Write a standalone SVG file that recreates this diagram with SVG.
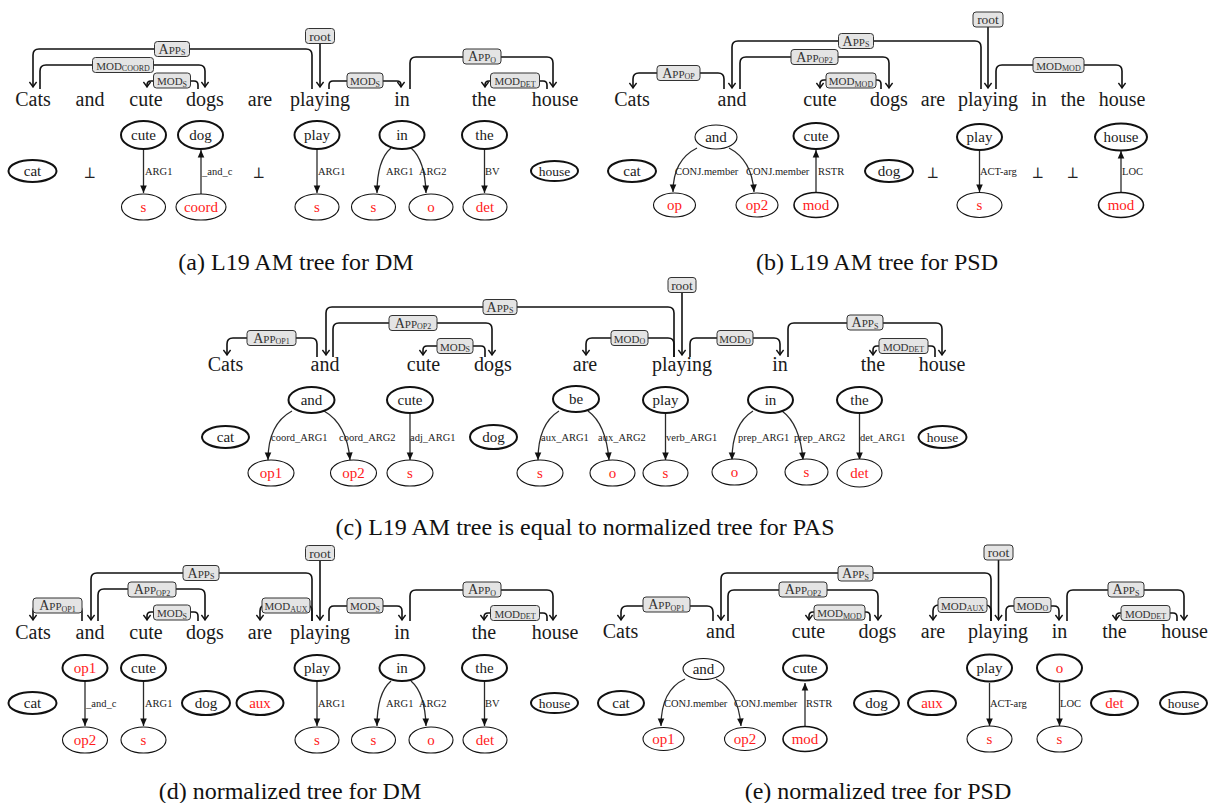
<svg xmlns="http://www.w3.org/2000/svg" width="1208" height="803" viewBox="0 0 1208 803">
<defs>
<style>
text{font-family:"Liberation Serif","Times New Roman",serif;fill:#1a1a1a}
.w{font-size:20px;text-anchor:middle}
.cap{font-size:24px;text-anchor:middle;fill:#111}
.arc{fill:none;stroke:#111;stroke-width:1.6;marker-end:url(#ah)}
.te{fill:none;stroke:#2a2a2a;stroke-width:1.3;marker-end:url(#tri)}
.lb rect{fill:#e4e4e4;stroke:#333;stroke-width:1}
.lb text{font-size:14px;text-anchor:middle;fill:#333}
.sc{font-size:11px}
.sb{font-size:8px}
.lb text.rt{font-size:13.5px}
.k ellipse{fill:#fff;stroke:#111;stroke-width:2}
.t ellipse{fill:#fff;stroke:#111;stroke-width:1.1}
.m ellipse{fill:#fff;stroke:#111;stroke-width:1.6}
.k text,.t text,.m text{font-size:15px;text-anchor:middle}
.red text{fill:#ff1a1a}
.sm text{font-size:13.5px}
.el{font-size:10.5px;fill:#222}
.bot{font-family:"DejaVu Math TeX Gyre","DejaVu Serif","DejaVu Sans",serif;font-size:15px;text-anchor:middle;fill:#222}
</style>
<marker id="ah" viewBox="-6 -5 7 10" markerWidth="7" markerHeight="10" refX="0" refY="0" orient="auto" markerUnits="userSpaceOnUse">
<path d="M-5,-3.6 Q-1.5,-0.8 0,0 Q-1.5,0.8 -5,3.6" fill="none" stroke="#111" stroke-width="1.4"/>
</marker>
<marker id="tri" viewBox="-8 -4 9 8" markerWidth="9" markerHeight="8" refX="0" refY="0" orient="auto" markerUnits="userSpaceOnUse">
<path d="M0,0 L-7.5,-3.3 L-7.5,3.3 z" fill="#111"/>
</marker>
</defs>
<rect width="1208" height="803" fill="#fff"/>

<!-- ================= PANEL A ================= -->
<g id="panel-a">
<g id="a-words">
<text class="w" x="33" y="106">Cats</text>
<text class="w" x="90" y="106">and</text>
<text class="w" x="146" y="106">cute</text>
<text class="w" x="205" y="106">dogs</text>
<text class="w" x="260" y="106">are</text>
<text class="w" x="320" y="106">playing</text>
<text class="w" x="402" y="106">in</text>
<text class="w" x="484" y="106">the</text>
<text class="w" x="555" y="106">house</text>
</g>
<g id="a-connectors">
<path class="arc" d="M312,89 V55 Q312,49 306,49 H39 Q33,49 33,55 V87"/>
<path class="arc" d="M40,89 V71 Q40,65 46,65 H199 Q205,65 205,71 V87"/>
<path class="arc" d="M198,89 V85 Q198,81 194,81 H151 Q147,81 147,85 V87"/>
<path class="arc" d="M320,43.5 V87"/>
<path class="arc" d="M329,89 V85 Q329,81 333,81 H397 Q401,81 401,85 V87"/>
<path class="arc" d="M410,89 V63 Q410,57 416,57 H547 Q553,57 553,63 V87"/>
<path class="arc" d="M547,89 V85 Q547,81 543,81 H489 Q485,81 485,85 V87"/>
<path class="te" d="M143.5,149 V193"/>
<path class="te" d="M201,194 V150"/>
<path class="te" d="M317,149 V193"/>
<path class="te" d="M391,148 Q377,160 377,193"/>
<path class="te" d="M411,148 Q425,160 426,193"/>
<path class="te" d="M484.5,149 V193"/>
<text class="el" x="145" y="175">ARG1</text>
<text class="el" x="202" y="175">_and_c</text>
<text class="el" x="318" y="175">ARG1</text>
<text class="el" x="386" y="175">ARG1</text>
<text class="el" x="419" y="175">ARG2</text>
<text class="el" x="485" y="175">BV</text>
<g class="lb"><rect x="154.5" y="41.5" width="35" height="15" rx="3"/><text x="172" y="53.5">A<tspan class="sc">PP</tspan><tspan class="sb" dy="1.5">S</tspan></text></g>
<g class="lb"><rect x="92.5" y="57.5" width="61" height="15" rx="3"/><text x="123" y="69.5"><tspan class="sc">MOD</tspan><tspan class="sb" dy="1.5">COORD</tspan></text></g>
<g class="lb"><rect x="153.5" y="73" width="37" height="15" rx="3"/><text x="172" y="85"><tspan class="sc">MOD</tspan><tspan class="sb" dy="1.5">S</tspan></text></g>
<g class="lb"><rect x="305.5" y="28.5" width="29" height="15" rx="3"/><text class="rt" x="320" y="40.5">root</text></g>
<g class="lb"><rect x="347" y="73" width="36" height="15" rx="3"/><text x="365" y="85"><tspan class="sc">MOD</tspan><tspan class="sb" dy="1.5">S</tspan></text></g>
<g class="lb"><rect x="463" y="49" width="38" height="15" rx="3"/><text x="482" y="61">A<tspan class="sc">PP</tspan><tspan class="sb" dy="1.5">O</tspan></text></g>
<g class="lb"><rect x="490.5" y="73" width="49" height="15" rx="3"/><text x="515" y="85"><tspan class="sc">MOD</tspan><tspan class="sb" dy="1.5">DET</tspan></text></g>
</g>
<g id="a-cute" class="k"><ellipse cx="143.5" cy="135" rx="22.5" ry="14"/><text x="143.5" y="140">cute</text></g>
<g id="a-dog" class="k"><ellipse cx="200.5" cy="135" rx="22.5" ry="14"/><text x="200.5" y="140">dog</text></g>
<g id="a-play" class="k"><ellipse cx="317" cy="135" rx="22.5" ry="14"/><text x="317" y="140">play</text></g>
<g id="a-in" class="k"><ellipse cx="402" cy="135" rx="22.5" ry="14"/><text x="402" y="140">in</text></g>
<g id="a-the" class="k"><ellipse cx="484.5" cy="135" rx="22.5" ry="14"/><text x="484.5" y="140">the</text></g>
<g id="a-cat" class="k"><ellipse cx="32.5" cy="171" rx="24" ry="11"/><text x="32.5" y="176">cat</text></g>
<g id="a-bot1"><text class="bot" x="90" y="178">⊥</text></g>
<g id="a-bot2"><text class="bot" x="259" y="178">⊥</text></g>
<g id="a-house" class="k sm"><ellipse cx="554.5" cy="171" rx="23.5" ry="10"/><text x="554.5" y="175.5">house</text></g>
<g id="a-s1" class="t red"><ellipse cx="143.5" cy="207" rx="22" ry="13"/><text x="143.5" y="212">s</text></g>
<g id="a-coord" class="t red"><ellipse cx="201" cy="207" rx="25" ry="13"/><text x="201" y="212">coord</text></g>
<g id="a-s2" class="t red"><ellipse cx="317" cy="207" rx="22" ry="13"/><text x="317" y="212">s</text></g>
<g id="a-s3" class="t red"><ellipse cx="373.5" cy="207" rx="22" ry="13"/><text x="373.5" y="212">s</text></g>
<g id="a-o" class="t red"><ellipse cx="431" cy="207" rx="22" ry="13"/><text x="431" y="212">o</text></g>
<g id="a-det" class="t red"><ellipse cx="485" cy="207" rx="22" ry="13"/><text x="485" y="212">det</text></g>
<text class="cap" x="296" y="270">(a) L19 AM tree for DM</text>
</g>

<!-- ================= PANEL B ================= -->
<g id="panel-b">
<g id="b-words">
<text class="w" x="632" y="106">Cats</text>
<text class="w" x="732" y="106">and</text>
<text class="w" x="820" y="106">cute</text>
<text class="w" x="889" y="106">dogs</text>
<text class="w" x="933" y="106">are</text>
<text class="w" x="988" y="106">playing</text>
<text class="w" x="1039" y="106">in</text>
<text class="w" x="1073" y="106">the</text>
<text class="w" x="1122" y="106">house</text>
</g>
<g id="b-connectors">
<path class="arc" d="M724,89 V79 Q724,73 718,73 H639 Q633,73 633,79 V88"/>
<path class="arc" d="M981,89 V47 Q981,41 975,41 H738 Q732,41 732,47 V88"/>
<path class="arc" d="M740,89 V63 Q740,57 746,57 H883 Q889,57 889,63 V88"/>
<path class="arc" d="M881,89 V84 Q881,80 877,80 H824 Q820,80 820,84 V88"/>
<path class="arc" d="M988,27 V88"/>
<path class="arc" d="M996,89 V71 Q996,65 1002,65 H1116 Q1122,65 1122,71 V88"/>
<path class="te" d="M697,148 Q673,160 673,192"/>
<path class="te" d="M729,148 Q752,160 754,192"/>
<path class="te" d="M816,192 V150"/>
<path class="te" d="M979.5,150 V192"/>
<path class="te" d="M1121,192 V151"/>
<text class="el" x="675" y="175">CONJ.member</text>
<text class="el" x="746" y="175">CONJ.member</text>
<text class="el" x="818" y="175">RSTR</text>
<text class="el" x="980" y="175">ACT-arg</text>
<text class="el" x="1122" y="175">LOC</text>
<g class="lb"><rect x="657" y="65.5" width="43" height="15" rx="3"/><text x="678.5" y="77.5">A<tspan class="sc">PP</tspan><tspan class="sb" dy="1.5">OP</tspan></text></g>
<g class="lb"><rect x="838.5" y="33.5" width="35" height="15" rx="3"/><text x="856" y="45.5">A<tspan class="sc">PP</tspan><tspan class="sb" dy="1.5">S</tspan></text></g>
<g class="lb"><rect x="791" y="49.5" width="47" height="15" rx="3"/><text x="814.5" y="61.5">A<tspan class="sc">PP</tspan><tspan class="sb" dy="1.5">OP2</tspan></text></g>
<g class="lb"><rect x="826" y="73" width="50" height="15" rx="3"/><text x="851" y="85"><tspan class="sc">MOD</tspan><tspan class="sb" dy="1.5">MOD</tspan></text></g>
<g class="lb"><rect x="973" y="12" width="30" height="15" rx="3"/><text class="rt" x="988" y="24">root</text></g>
<g class="lb"><rect x="1033" y="57.5" width="51" height="15" rx="3"/><text x="1058.5" y="69.5"><tspan class="sc">MOD</tspan><tspan class="sb" dy="1.5">MOD</tspan></text></g>
</g>
<g id="b-and" class="t"><ellipse cx="716" cy="137" rx="21" ry="12"/><text x="716" y="142">and</text></g>
<g id="b-cute" class="k"><ellipse cx="816" cy="136" rx="22.5" ry="13"/><text x="816" y="141">cute</text></g>
<g id="b-play" class="k"><ellipse cx="979.5" cy="137" rx="22.5" ry="13"/><text x="979.5" y="142">play</text></g>
<g id="b-house" class="k"><ellipse cx="1121" cy="137" rx="26" ry="13.5"/><text x="1121" y="142">house</text></g>
<g id="b-cat" class="k"><ellipse cx="632" cy="171" rx="24" ry="11"/><text x="632" y="176">cat</text></g>
<g id="b-dog" class="k"><ellipse cx="889" cy="171" rx="24" ry="11"/><text x="889" y="176">dog</text></g>
<g id="b-bot1"><text class="bot" x="933" y="178">⊥</text></g>
<g id="b-bot2"><text class="bot" x="1038" y="178">⊥</text></g>
<g id="b-bot3"><text class="bot" x="1073" y="178">⊥</text></g>
<g id="b-op" class="t red"><ellipse cx="674.5" cy="205" rx="21" ry="12"/><text x="674.5" y="210">op</text></g>
<g id="b-op2" class="t red"><ellipse cx="757" cy="205" rx="21" ry="12"/><text x="757" y="210">op2</text></g>
<g id="b-mod1" class="m red"><ellipse cx="816" cy="205" rx="22" ry="12.5"/><text x="816" y="210">mod</text></g>
<g id="b-s" class="t red"><ellipse cx="979.5" cy="205" rx="22.5" ry="12.5"/><text x="979.5" y="210">s</text></g>
<g id="b-mod2" class="m red"><ellipse cx="1121" cy="205" rx="22.5" ry="12.5"/><text x="1121" y="210">mod</text></g>
<text class="cap" x="877" y="270">(b) L19 AM tree for PSD</text>
</g>

<!-- ================= PANEL C ================= -->
<g id="panel-c">
<g id="c-words">
<text class="w" x="225.5" y="371">Cats</text>
<text class="w" x="325" y="371">and</text>
<text class="w" x="423.5" y="371">cute</text>
<text class="w" x="493" y="371">dogs</text>
<text class="w" x="585" y="371">are</text>
<text class="w" x="682" y="371">playing</text>
<text class="w" x="780" y="371">in</text>
<text class="w" x="873" y="371">the</text>
<text class="w" x="942" y="371">house</text>
</g>
<g id="c-connectors">
<path class="arc" d="M317,357 V344 Q317,338 311,338 H233 Q227,338 227,344 V355"/>
<path class="arc" d="M674,357 V313 Q674,307 668,307 H332 Q326,307 326,313 V355"/>
<path class="arc" d="M333,357 V329 Q333,323 339,323 H486 Q492,323 492,329 V355"/>
<path class="arc" d="M485,357 V350 Q485,346 481,346 H427 Q423,346 423,350 V355"/>
<path class="arc" d="M682,292.5 V355"/>
<path class="arc" d="M674,357 V344 Q674,338 668,338 H592 Q586,338 586,344 V355"/>
<path class="arc" d="M690,357 V344 Q690,338 696,338 H774 Q780,338 780,344 V355"/>
<path class="arc" d="M788,357 V329 Q788,323 794,323 H936 Q942,323 942,329 V355"/>
<path class="arc" d="M935,357 V350 Q935,346 931,346 H877 Q873,346 873,350 V355"/>
<path class="te" d="M292,411 Q268,424 268,460"/>
<path class="te" d="M324,411 Q347,424 350,460"/>
<path class="te" d="M410,413 V460"/>
<path class="te" d="M559,411 Q538,424 538,460"/>
<path class="te" d="M588,411 Q606,424 609,460"/>
<path class="te" d="M665.5,413 V460"/>
<path class="te" d="M753,411 Q732,424 732,460"/>
<path class="te" d="M782,411 Q800,424 803,460"/>
<path class="te" d="M859.5,413 V460"/>
<text class="el" x="271" y="441">coord_ARG1</text>
<text class="el" x="339" y="441">coord_ARG2</text>
<text class="el" x="410" y="441">adj_ARG1</text>
<text class="el" x="541" y="441">aux_ARG1</text>
<text class="el" x="598" y="441">aux_ARG2</text>
<text class="el" x="666" y="441">verb_ARG1</text>
<text class="el" x="738" y="441">prep_ARG1</text>
<text class="el" x="794" y="441">prep_ARG2</text>
<text class="el" x="860" y="441">det_ARG1</text>
<g class="lb"><rect x="247" y="330.5" width="49" height="15" rx="3"/><text x="271.5" y="342.5">A<tspan class="sc">PP</tspan><tspan class="sb" dy="1.5">OP1</tspan></text></g>
<g class="lb"><rect x="483" y="299.5" width="34" height="15" rx="3"/><text x="500" y="311.5">A<tspan class="sc">PP</tspan><tspan class="sb" dy="1.5">S</tspan></text></g>
<g class="lb"><rect x="389" y="315.5" width="48" height="15" rx="3"/><text x="413" y="327.5">A<tspan class="sc">PP</tspan><tspan class="sb" dy="1.5">OP2</tspan></text></g>
<g class="lb"><rect x="437" y="338.5" width="36" height="15" rx="3"/><text x="455" y="350.5"><tspan class="sc">MOD</tspan><tspan class="sb" dy="1.5">S</tspan></text></g>
<g class="lb"><rect x="668" y="277.5" width="28" height="15" rx="3"/><text class="rt" x="682" y="289.5">root</text></g>
<g class="lb"><rect x="611" y="330.5" width="37" height="15" rx="3"/><text x="629.5" y="342.5"><tspan class="sc">MOD</tspan><tspan class="sb" dy="1.5">O</tspan></text></g>
<g class="lb"><rect x="717" y="330.5" width="36" height="15" rx="3"/><text x="735" y="342.5"><tspan class="sc">MOD</tspan><tspan class="sb" dy="1.5">O</tspan></text></g>
<g class="lb"><rect x="847" y="315" width="36" height="15" rx="3"/><text x="865" y="327">A<tspan class="sc">PP</tspan><tspan class="sb" dy="1.5">S</tspan></text></g>
<g class="lb"><rect x="879" y="338.5" width="49" height="15" rx="3"/><text x="903.5" y="350.5"><tspan class="sc">MOD</tspan><tspan class="sb" dy="1.5">DET</tspan></text></g>
</g>
<g id="c-and" class="k"><ellipse cx="311.5" cy="400" rx="23" ry="13"/><text x="311.5" y="405">and</text></g>
<g id="c-cute" class="k"><ellipse cx="410" cy="400" rx="23" ry="13"/><text x="410" y="405">cute</text></g>
<g id="c-be" class="k"><ellipse cx="576" cy="399" rx="23" ry="13"/><text x="576" y="404">be</text></g>
<g id="c-play" class="k"><ellipse cx="665.5" cy="400" rx="22.5" ry="13"/><text x="665.5" y="405">play</text></g>
<g id="c-in" class="k"><ellipse cx="770.5" cy="400" rx="22.5" ry="13"/><text x="770.5" y="405">in</text></g>
<g id="c-the" class="k"><ellipse cx="859.5" cy="400" rx="22.5" ry="13"/><text x="859.5" y="405">the</text></g>
<g id="c-cat" class="k"><ellipse cx="225.5" cy="437" rx="23.5" ry="11"/><text x="225.5" y="442">cat</text></g>
<g id="c-dog" class="k"><ellipse cx="493.5" cy="437" rx="23.5" ry="12"/><text x="493.5" y="442">dog</text></g>
<g id="c-house" class="k sm"><ellipse cx="942.5" cy="437" rx="24" ry="11"/><text x="942.5" y="441.5">house</text></g>
<g id="c-op1" class="t red"><ellipse cx="271" cy="473" rx="23" ry="13"/><text x="271" y="478">op1</text></g>
<g id="c-op2" class="t red"><ellipse cx="353.5" cy="473" rx="23" ry="13"/><text x="353.5" y="478">op2</text></g>
<g id="c-s1" class="t red"><ellipse cx="410" cy="473" rx="23" ry="13"/><text x="410" y="478">s</text></g>
<g id="c-s2" class="t red"><ellipse cx="540" cy="473" rx="23" ry="13"/><text x="540" y="478">s</text></g>
<g id="c-o1" class="t red"><ellipse cx="612.5" cy="473" rx="22.5" ry="13"/><text x="612.5" y="478">o</text></g>
<g id="c-s3" class="t red"><ellipse cx="665.5" cy="473" rx="22.5" ry="13"/><text x="665.5" y="478">s</text></g>
<g id="c-o2" class="t red"><ellipse cx="734.5" cy="472" rx="22.5" ry="13"/><text x="734.5" y="477">o</text></g>
<g id="c-s4" class="t red"><ellipse cx="806.5" cy="472" rx="21.5" ry="13"/><text x="806.5" y="477">s</text></g>
<g id="c-det" class="t red"><ellipse cx="859.5" cy="473" rx="22.5" ry="14"/><text x="859.5" y="478">det</text></g>
<text class="cap" x="585" y="535">(c) L19 AM tree is equal to normalized tree for PAS</text>
</g>

<!-- ================= PANEL D ================= -->
<g id="panel-d">
<g id="d-words">
<text class="w" x="33" y="639">Cats</text>
<text class="w" x="90" y="639">and</text>
<text class="w" x="146" y="639">cute</text>
<text class="w" x="205" y="639">dogs</text>
<text class="w" x="260" y="639">are</text>
<text class="w" x="320" y="639">playing</text>
<text class="w" x="402" y="639">in</text>
<text class="w" x="484" y="639">the</text>
<text class="w" x="555" y="639">house</text>
</g>
<g id="d-connectors">
<path class="arc" d="M82,621 V611 Q82,605 76,605 H39 Q33,605 33,611 V620"/>
<path class="arc" d="M312,621 V579 Q312,573 306,573 H97 Q91,573 91,579 V620"/>
<path class="arc" d="M98,621 V595 Q98,589 104,589 H199 Q205,589 205,595 V620"/>
<path class="arc" d="M198,621 V616 Q198,612 194,612 H151 Q147,612 147,616 V620"/>
<path class="arc" d="M312,621 V611 Q312,605 306,605 H266 Q260,605 260,611 V620"/>
<path class="arc" d="M320,560.5 V620"/>
<path class="arc" d="M329,621 V611 Q329,606 334,606 H397 Q402,606 402,611 V620"/>
<path class="arc" d="M410,621 V596 Q410,590 416,590 H547 Q553,590 553,596 V620"/>
<path class="arc" d="M547,621 V617 Q547,613 543,613 H488 Q484,613 484,617 V620"/>
<path class="te" d="M85,682 V726"/>
<path class="te" d="M143.5,682 V726"/>
<path class="te" d="M317,682 V726"/>
<path class="te" d="M391,681 Q377,693 377,726"/>
<path class="te" d="M411,681 Q425,693 426,726"/>
<path class="te" d="M484.5,682 V726"/>
<text class="el" x="86" y="707">_and_c</text>
<text class="el" x="145" y="707">ARG1</text>
<text class="el" x="318" y="707">ARG1</text>
<text class="el" x="386" y="707">ARG1</text>
<text class="el" x="419" y="707">ARG2</text>
<text class="el" x="485" y="707">BV</text>
<g class="lb"><rect x="33" y="598" width="49" height="15" rx="3"/><text x="57.5" y="610">A<tspan class="sc">PP</tspan><tspan class="sb" dy="1.5">OP1</tspan></text></g>
<g class="lb"><rect x="183" y="565.5" width="36" height="15" rx="3"/><text x="201" y="577.5">A<tspan class="sc">PP</tspan><tspan class="sb" dy="1.5">S</tspan></text></g>
<g class="lb"><rect x="128" y="582" width="48" height="15" rx="3"/><text x="152" y="594">A<tspan class="sc">PP</tspan><tspan class="sb" dy="1.5">OP2</tspan></text></g>
<g class="lb"><rect x="153.5" y="605" width="37" height="15" rx="3"/><text x="172" y="617"><tspan class="sc">MOD</tspan><tspan class="sb" dy="1.5">S</tspan></text></g>
<g class="lb"><rect x="262" y="598" width="48" height="15" rx="3"/><text x="286" y="610"><tspan class="sc">MOD</tspan><tspan class="sb" dy="1.5">AUX</tspan></text></g>
<g class="lb"><rect x="305.5" y="545.5" width="29" height="15" rx="3"/><text class="rt" x="320" y="557.5">root</text></g>
<g class="lb"><rect x="347" y="598" width="36" height="15" rx="3"/><text x="365" y="610"><tspan class="sc">MOD</tspan><tspan class="sb" dy="1.5">S</tspan></text></g>
<g class="lb"><rect x="463" y="582" width="38" height="15" rx="3"/><text x="482" y="594">A<tspan class="sc">PP</tspan><tspan class="sb" dy="1.5">O</tspan></text></g>
<g class="lb"><rect x="490.5" y="605.5" width="49" height="15" rx="3"/><text x="515" y="617.5"><tspan class="sc">MOD</tspan><tspan class="sb" dy="1.5">DET</tspan></text></g>
</g>
<g id="d-op1" class="k red"><ellipse cx="85" cy="668" rx="22.5" ry="13"/><text x="85" y="673">op1</text></g>
<g id="d-cute" class="k"><ellipse cx="143.5" cy="668" rx="22.5" ry="13"/><text x="143.5" y="673">cute</text></g>
<g id="d-play" class="k"><ellipse cx="317" cy="668" rx="22.5" ry="13"/><text x="317" y="673">play</text></g>
<g id="d-in" class="k"><ellipse cx="402" cy="668" rx="22.5" ry="13"/><text x="402" y="673">in</text></g>
<g id="d-the" class="k"><ellipse cx="484.5" cy="668" rx="22.5" ry="13"/><text x="484.5" y="673">the</text></g>
<g id="d-cat" class="k"><ellipse cx="32.5" cy="703" rx="24" ry="11"/><text x="32.5" y="708">cat</text></g>
<g id="d-dog" class="k"><ellipse cx="206" cy="703" rx="24" ry="12"/><text x="206" y="708">dog</text></g>
<g id="d-aux" class="k red"><ellipse cx="260" cy="703" rx="23.5" ry="12"/><text x="260" y="708">aux</text></g>
<g id="d-house" class="k sm"><ellipse cx="554.5" cy="703" rx="23.5" ry="10"/><text x="554.5" y="707.5">house</text></g>
<g id="d-op2" class="t red"><ellipse cx="85" cy="740" rx="22.5" ry="13"/><text x="85" y="745">op2</text></g>
<g id="d-s1" class="t red"><ellipse cx="143.5" cy="740" rx="22.5" ry="13"/><text x="143.5" y="745">s</text></g>
<g id="d-s2" class="t red"><ellipse cx="317" cy="740" rx="22" ry="13"/><text x="317" y="745">s</text></g>
<g id="d-s3" class="t red"><ellipse cx="373.5" cy="740" rx="22" ry="13"/><text x="373.5" y="745">s</text></g>
<g id="d-o" class="t red"><ellipse cx="431" cy="740" rx="22" ry="13"/><text x="431" y="745">o</text></g>
<g id="d-det" class="t red"><ellipse cx="485" cy="740" rx="22" ry="13"/><text x="485" y="745">det</text></g>
<text class="cap" x="290" y="799">(d) normalized tree for DM</text>
</g>

<!-- ================= PANEL E ================= -->
<g id="panel-e">
<g id="e-words">
<text class="w" x="620.5" y="638">Cats</text>
<text class="w" x="720.5" y="638">and</text>
<text class="w" x="808.5" y="638">cute</text>
<text class="w" x="877.5" y="638">dogs</text>
<text class="w" x="933" y="638">are</text>
<text class="w" x="998" y="638">playing</text>
<text class="w" x="1059.5" y="638">in</text>
<text class="w" x="1114.5" y="638">the</text>
<text class="w" x="1184.5" y="638">house</text>
</g>
<g id="e-connectors">
<path class="arc" d="M713,621 V612 Q713,606 707,606 H627 Q621,606 621,612 V620"/>
<path class="arc" d="M991,621 V579 Q991,573 985,573 H727 Q721,573 721,579 V620"/>
<path class="arc" d="M728,621 V596 Q728,590 734,590 H872 Q878,590 878,596 V620"/>
<path class="arc" d="M870,621 V616 Q870,612 866,612 H813 Q809,612 809,616 V620"/>
<path class="arc" d="M991,621 V611 Q991,605 985,605 H939 Q933,605 933,611 V620"/>
<path class="arc" d="M998.5,560 V620"/>
<path class="arc" d="M1006,621 V611 Q1006,606 1011,606 H1054 Q1059,606 1059,611 V620"/>
<path class="arc" d="M1067,621 V596 Q1067,590 1073,590 H1178 Q1184,590 1184,596 V620"/>
<path class="arc" d="M1177,621 V617 Q1177,613 1173,613 H1120 Q1116,613 1116,617 V620"/>
<path class="te" d="M685,679 Q661,690 661,726"/>
<path class="te" d="M716,679 Q738,690 741,726"/>
<path class="te" d="M805,726 V683"/>
<path class="te" d="M989.5,683 V726"/>
<path class="te" d="M1059.5,683 V726"/>
<text class="el" x="664" y="707">CONJ.member</text>
<text class="el" x="734" y="707">CONJ.member</text>
<text class="el" x="806" y="707">RSTR</text>
<text class="el" x="990" y="707">ACT-arg</text>
<text class="el" x="1060" y="707">LOC</text>
<g class="lb"><rect x="643" y="597" width="47" height="15" rx="3"/><text x="666.5" y="609">A<tspan class="sc">PP</tspan><tspan class="sb" dy="1.5">OP1</tspan></text></g>
<g class="lb"><rect x="838" y="566" width="35" height="15" rx="3"/><text x="855.5" y="578">A<tspan class="sc">PP</tspan><tspan class="sb" dy="1.5">S</tspan></text></g>
<g class="lb"><rect x="779" y="582" width="48" height="15" rx="3"/><text x="803" y="594">A<tspan class="sc">PP</tspan><tspan class="sb" dy="1.5">OP2</tspan></text></g>
<g class="lb"><rect x="814" y="605" width="51" height="15" rx="3"/><text x="839.5" y="617"><tspan class="sc">MOD</tspan><tspan class="sb" dy="1.5">MOD</tspan></text></g>
<g class="lb"><rect x="938" y="597.5" width="49" height="15" rx="3"/><text x="962.5" y="609.5"><tspan class="sc">MOD</tspan><tspan class="sb" dy="1.5">AUX</tspan></text></g>
<g class="lb"><rect x="984" y="545" width="29" height="15" rx="3"/><text class="rt" x="998.5" y="557">root</text></g>
<g class="lb"><rect x="1014" y="597.5" width="37" height="15" rx="3"/><text x="1032.5" y="609.5"><tspan class="sc">MOD</tspan><tspan class="sb" dy="1.5">O</tspan></text></g>
<g class="lb"><rect x="1108" y="582" width="36" height="15" rx="3"/><text x="1126" y="594">A<tspan class="sc">PP</tspan><tspan class="sb" dy="1.5">S</tspan></text></g>
<g class="lb"><rect x="1121" y="605.5" width="49" height="15" rx="3"/><text x="1145.5" y="617.5"><tspan class="sc">MOD</tspan><tspan class="sb" dy="1.5">DET</tspan></text></g>
</g>
<g id="e-and" class="t"><ellipse cx="703.5" cy="669" rx="20.5" ry="10.5"/><text x="703.5" y="674">and</text></g>
<g id="e-cute" class="k"><ellipse cx="805" cy="668" rx="22" ry="12.5"/><text x="805" y="673">cute</text></g>
<g id="e-play" class="k"><ellipse cx="989.5" cy="668" rx="22.5" ry="13.5"/><text x="989.5" y="673">play</text></g>
<g id="e-o" class="k red"><ellipse cx="1059.5" cy="668" rx="22.5" ry="13.5"/><text x="1059.5" y="673">o</text></g>
<g id="e-cat" class="k"><ellipse cx="621" cy="703" rx="23" ry="12"/><text x="621" y="708">cat</text></g>
<g id="e-dog" class="k"><ellipse cx="876.5" cy="703" rx="22.5" ry="12"/><text x="876.5" y="708">dog</text></g>
<g id="e-aux" class="k red"><ellipse cx="932" cy="703" rx="24" ry="12"/><text x="932" y="708">aux</text></g>
<g id="e-det" class="k red"><ellipse cx="1114.5" cy="703" rx="23.5" ry="12"/><text x="1114.5" y="708">det</text></g>
<g id="e-house" class="k sm"><ellipse cx="1183.5" cy="703" rx="23.5" ry="11"/><text x="1183.5" y="707.5">house</text></g>
<g id="e-op1" class="t red"><ellipse cx="663.5" cy="739" rx="20.5" ry="11.5"/><text x="663.5" y="744">op1</text></g>
<g id="e-op2" class="t red"><ellipse cx="745" cy="739" rx="20.5" ry="11.5"/><text x="745" y="744">op2</text></g>
<g id="e-mod" class="m red"><ellipse cx="805" cy="739" rx="22" ry="12.5"/><text x="805" y="744">mod</text></g>
<g id="e-s1" class="t red"><ellipse cx="989.5" cy="739" rx="22.5" ry="13"/><text x="989.5" y="744">s</text></g>
<g id="e-s2" class="t red"><ellipse cx="1059.5" cy="739" rx="22.5" ry="13"/><text x="1059.5" y="744">s</text></g>
<text class="cap" x="878" y="799">(e) normalized tree for PSD</text>
</g>
</svg>
